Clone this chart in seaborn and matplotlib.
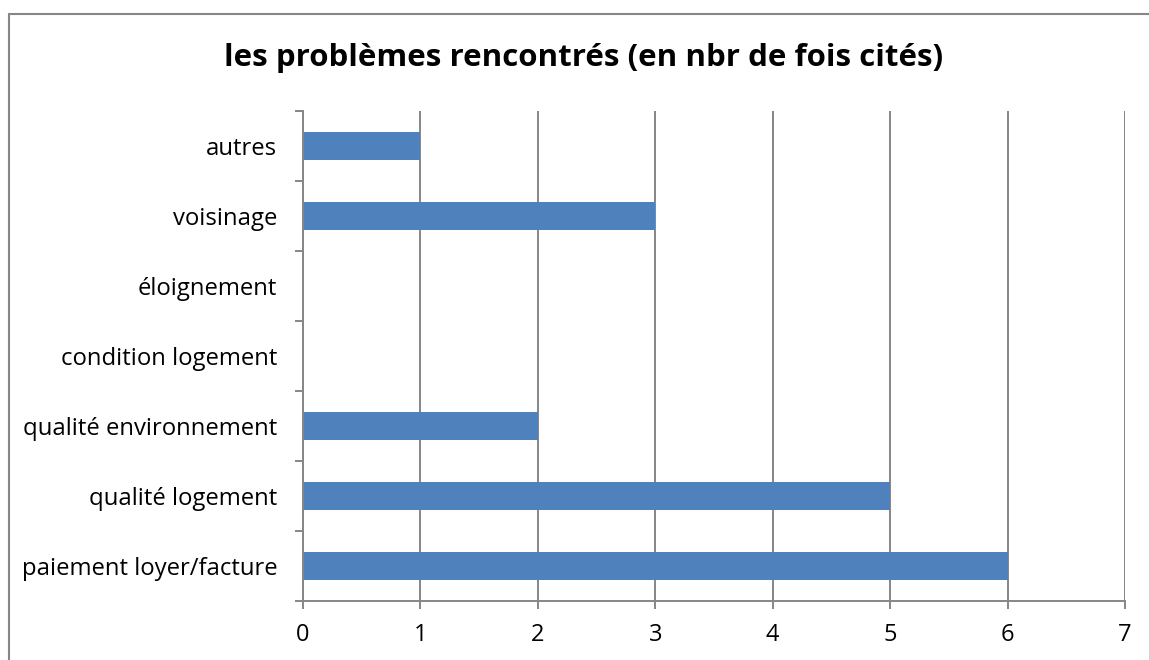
import matplotlib
matplotlib.use("Agg")
import matplotlib.pyplot as plt
from matplotlib.lines import Line2D
import seaborn as sns
import pandas as pd

# données (de haut en bas)
categories = ["autres", "voisinage", "éloignement", "condition logement",
              "qualité environnement", "qualité logement", "paiement loyer/facture"]
counts = [1, 3, 0, 0, 2, 5, 6]
x_ticks = [0, 1, 2, 3, 4, 5, 6, 7]
title = "les problèmes rencontrés (en nbr de fois cités)"

bar_color = "#4F81BD"
grid_color = "#868686"


def main():
    sns.set_theme(style="white")
    plt.rcParams["font.family"] = ["Open Sans", "DejaVu Sans"]

    df = pd.DataFrame({"categorie": categories, "nombre": counts})

    W, H = 1149, 660
    fig = plt.figure(figsize=(W / 100, H / 100), dpi=100)
    ax = fig.add_axes([303 / W, (H - 601) / H, (1125 - 303) / W, (601 - 111) / H])

    sns.barplot(data=df, x="nombre", y="categorie", order=categories,
                color=bar_color, width=0.4, saturation=1, linewidth=0, ax=ax)

    ax.set_xlim(0, 7)
    ax.set_ylim(len(categories) - 0.5, -0.5)
    ax.set_xticks(x_ticks)
    ax.set_xticklabels([str(t) for t in x_ticks])
    ax.set_xlabel("")
    ax.set_ylabel("")

    # grille verticale
    ax.set_axisbelow(True)
    ax.grid(axis="x", color=grid_color, linewidth=1.4)
    ax.grid(axis="y", visible=False)

    for s in ["top", "right"]:
        ax.spines[s].set_visible(False)
    for s in ["left", "bottom"]:
        ax.spines[s].set_color(grid_color)
        ax.spines[s].set_linewidth(1.4)

    ax.tick_params(axis="x", which="major", length=5.8, width=1.4, color=grid_color,
                   direction="out", bottom=True, labelsize=17, pad=10, labelcolor="black")
    ax.tick_params(axis="y", which="major", length=0, labelsize=17.2, pad=18.5,
                   labelcolor="black")
    ax.set_yticks([i + 0.5 for i in range(-1, len(categories))], minor=True)
    ax.tick_params(axis="y", which="minor", length=5.8, width=1.4, color=grid_color,
                   left=True, direction="out")

    fig.text(584 / W, 1 - 58 / H, title, ha="center", va="center",
             fontsize=22.5, fontweight="bold", color="black")

    # cadre du graphique (haut et gauche seulement visibles)
    top_y = 1 - 13.5 / H
    left_x = 8.5 / W
    fig.lines.append(Line2D([left_x, 1.0], [top_y, top_y], transform=fig.transFigure,
                            color=grid_color, linewidth=1.5))
    fig.lines.append(Line2D([left_x, left_x], [top_y, 0.0], transform=fig.transFigure,
                            color=grid_color, linewidth=1.5))

    fig.savefig("out.png", dpi=100)
    plt.close(fig)


if __name__ == "__main__":
    main()
